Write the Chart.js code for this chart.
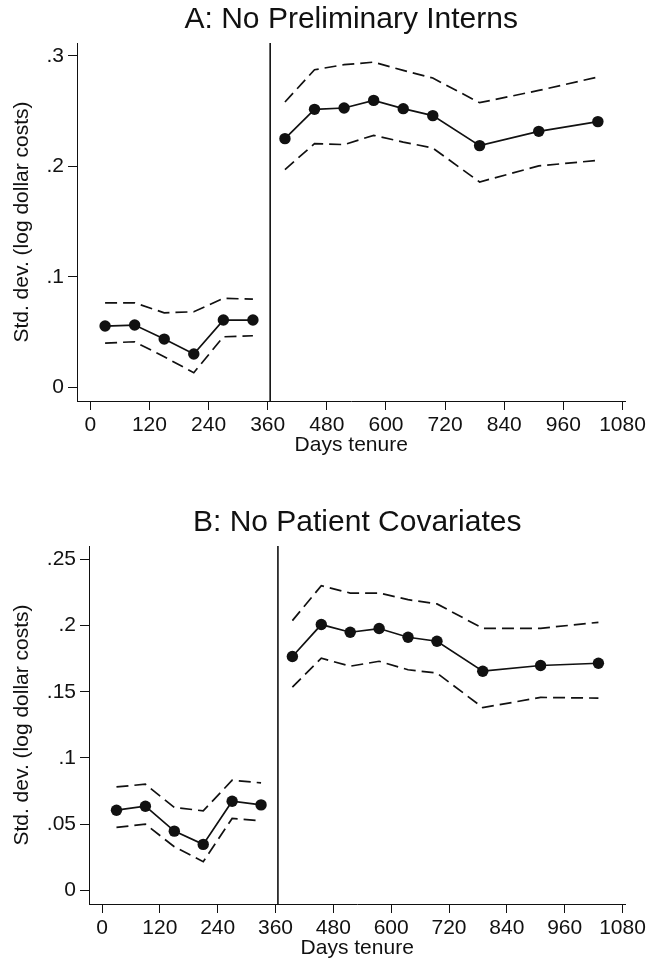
<!DOCTYPE html>
<html>
<head>
<meta charset="utf-8">
<script src="https://cdn.jsdelivr.net/npm/chart.js@4.4.1/dist/chart.umd.min.js"></script>
<style>
  html, body { margin: 0; padding: 0; background: #fff; }
  .panel { position: relative; width: 649px; height: 481px; }
</style>
</head>
<body>
<div class="panel"><canvas id="chartA"></canvas></div>
<div class="panel"><canvas id="chartB"></canvas></div>
<script>
// days of tenure, before and after the one-year mark
const daysBefore = [30, 90, 150, 210, 270, 330];
const daysAfter = [395, 455, 515, 575, 635, 695, 790, 910, 1030];
const xTicks = [0, 120, 240, 360, 480, 600, 720, 840, 960, 1080];
const cutoffDay = 365;

// A: No Preliminary Interns
const aBefore   = [0.0556, 0.0565, 0.0438, 0.0303, 0.0610, 0.0610];
const aBeforeHi = [0.0766, 0.0766, 0.0676, 0.0685, 0.0806, 0.0800];
const aBeforeLo = [0.0402, 0.0414, 0.0278, 0.0134, 0.0459, 0.0468];
const aAfter    = [0.2251, 0.2516, 0.2528, 0.2597, 0.2522, 0.2459, 0.2188, 0.2317, 0.2405];
const aAfterHi  = [0.2582, 0.2874, 0.2920, 0.2943, 0.2868, 0.2799, 0.2576, 0.2687, 0.2808];
const aAfterLo  = [0.1971, 0.2206, 0.2197, 0.2281, 0.2220, 0.2166, 0.1859, 0.2004, 0.2055];
const aYTicks = [0, 0.1, 0.2, 0.3];

// B: No Patient Covariates
const bBefore   = [0.0606, 0.0636, 0.0448, 0.0348, 0.0674, 0.0646];
const bBeforeHi = [0.0782, 0.0802, 0.0627, 0.0601, 0.0832, 0.0812];
const bBeforeLo = [0.0476, 0.0501, 0.0330, 0.0217, 0.0544, 0.0526];
const bAfter    = [0.1766, 0.2007, 0.1949, 0.1977, 0.1911, 0.1881, 0.1655, 0.1698, 0.1715];
const bAfterHi  = [0.2037, 0.2300, 0.2245, 0.2245, 0.2195, 0.2163, 0.1979, 0.1979, 0.2024];
const bAfterLo  = [0.1535, 0.1753, 0.1693, 0.1730, 0.1666, 0.1641, 0.1380, 0.1457, 0.1452];
const bYTicks = [0, 0.05, 0.1, 0.15, 0.2, 0.25];

const FONT = "'Liberation Sans', Arial, Helvetica, sans-serif";
const INK = '#111';

function pts(xs, ys) {
    return xs.map((x, i) => ({ x: x, y: ys[i] }));
}

function meanLine(xs, ys) {
    return {
        data: pts(xs, ys), borderColor: INK, borderWidth: 1.7,
        pointRadius: 5.7, pointBackgroundColor: INK, pointBorderWidth: 0,
        tension: 0
    };
}

function ciLine(xs, ys) {
    return {
        data: pts(xs, ys), borderColor: INK, borderWidth: 1.7,
        borderDash: [12, 6], pointRadius: 0, tension: 0
    };
}

function makeChart(id, p) {
    const datasets = [
        meanLine(daysBefore, p.before), ciLine(daysBefore, p.beforeHi), ciLine(daysBefore, p.beforeLo),
        meanLine(daysAfter, p.after), ciLine(daysAfter, p.afterHi), ciLine(daysAfter, p.afterLo),
        {
            data: [{ x: cutoffDay, y: p.yMin }, { x: cutoffDay, y: p.yMax }],
            borderColor: INK, borderWidth: 1.6, pointRadius: 0
        }
    ];

    return new Chart(document.getElementById(id), {
        type: 'line',
        data: { datasets: datasets },
        options: {
            responsive: true,
            maintainAspectRatio: false,
            animation: false,
            layout: { padding: { left: 0, right: p.padRight, top: 0, bottom: 0 } },
            plugins: {
                legend: { display: false },
                tooltip: { enabled: false },
                title: {
                    display: true, text: p.title, color: INK, fullSize: false,
                    font: { family: FONT, size: 30, weight: 'normal', lineHeight: 1.2 },
                    padding: { top: p.titleTop, bottom: p.titleBottom }
                }
            },
            scales: {
                x: {
                    type: 'linear', min: -27, max: 1086,
                    afterBuildTicks: s => { s.ticks = xTicks.map(v => ({ value: v })); },
                    afterFit: s => { s.height = p.xHeight; },
                    border: { display: true, color: INK, width: 1 },
                    grid: { display: true, drawOnChartArea: false, drawTicks: true, tickLength: 9, color: INK },
                    ticks: {
                        color: INK, padding: 3, maxRotation: 0, font: { family: FONT, size: 21 },
                        callback: v => String(v)
                    },
                    title: {
                        display: true, text: 'Days tenure', color: INK,
                        font: { family: FONT, size: 21, lineHeight: 1.2 },
                        padding: { top: 0, bottom: p.xTitleBottom }
                    }
                },
                y: {
                    type: 'linear', min: p.yMin, max: p.yMax,
                    afterBuildTicks: s => { s.ticks = p.yTicks.map(v => ({ value: v })); },
                    afterFit: s => { s.width = p.yWidth; },
                    border: { display: true, color: INK, width: 1 },
                    grid: { display: true, drawOnChartArea: false, drawTicks: true, tickLength: 9, color: INK },
                    ticks: {
                        color: INK, padding: 4, font: { family: FONT, size: 21 },
                        callback: v => v === 0 ? '0' : String(v).replace(/^0/, '')
                    },
                    title: {
                        display: true, text: 'Std. dev. (log dollar costs)', color: INK,
                        font: { family: FONT, size: 21, lineHeight: 1.2 },
                        padding: { top: 10, bottom: 0 }
                    }
                }
            }
        }
    });
}

makeChart('chartA', {
    title: 'A: No Preliminary Interns',
    before: aBefore, beforeHi: aBeforeHi, beforeLo: aBeforeLo,
    after: aAfter, afterHi: aAfterHi, afterLo: aAfterLo,
    yTicks: aYTicks, yMin: -0.0122, yMax: 0.3116,
    yWidth: 77, padRight: 22, xHeight: 80, xTitleBottom: 23,
    titleTop: 2, titleBottom: 5
});

makeChart('chartB', {
    title: 'B: No Patient Covariates',
    before: bBefore, beforeHi: bBeforeHi, beforeLo: bBeforeLo,
    after: bAfter, afterHi: bAfterHi, afterLo: bAfterLo,
    yTicks: bYTicks, yMin: -0.0102, yMax: 0.26,
    yWidth: 89, padRight: 22, xHeight: 58, xTitleBottom: 1,
    titleTop: 24, titleBottom: 5
});
</script>
</body>
</html>
